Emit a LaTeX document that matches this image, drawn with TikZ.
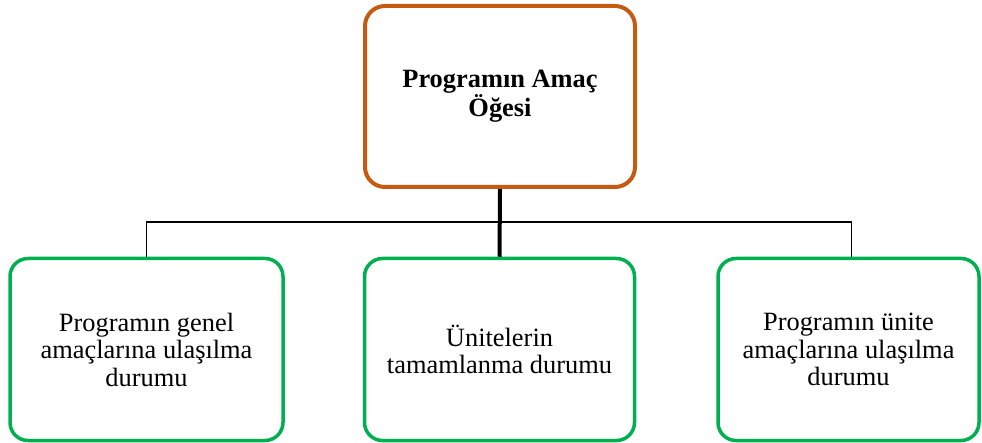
\documentclass[tikz,border=0pt]{standalone}
\usepackage{fontspec}
\setmainfont{Liberation Serif}
\usetikzlibrary{positioning}
\definecolor{amacorange}{HTML}{C55A11}
\definecolor{amacgreen}{HTML}{00B050}

\begin{document}
\begin{tikzpicture}[x=1pt, y=-1pt,
	rootbox/.style={draw=amacorange, line width=4pt, rounded corners=20pt,
		minimum width=270pt, minimum height=181pt, inner sep=0pt,
		align=center, font=\fontsize{26.4}{26}\selectfont\bfseries},
	leafbox/.style={draw=amacgreen, line width=3.5pt, rounded corners=18pt,
		minimum height=182pt, inner sep=0pt,
		align=center, font=\fontsize{26.4}{27.5}\selectfont}]
	\useasboundingbox (0,0) rectangle (982,443);
	\node[rootbox] (amac) at (500,96.5) {Programın Amaç\\Öğesi};
	\node[leafbox, minimum width=273pt] (genel) at (146.5,349.5)
		{Programın genel\\amaçlarına ulaşılma\\durumu};
	\node[leafbox, minimum width=270pt] (unite) at (499.5,349.5)
		{Ünitelerin\\tamamlanma durumu};
	\node[leafbox, minimum width=261pt] (uniteamac) at (848.5,349.5)
		{Programın ünite\\amaçlarına ulaşılma\\durumu};
	\coordinate (bus) at (500,222);
	% connectors
	\draw[line width=1.8pt] (genel.north) |- (bus) -| ([xshift=3pt]uniteamac.north);
	\draw[line width=4pt] (amac.south) -- (unite.north);
\end{tikzpicture}
\end{document}
